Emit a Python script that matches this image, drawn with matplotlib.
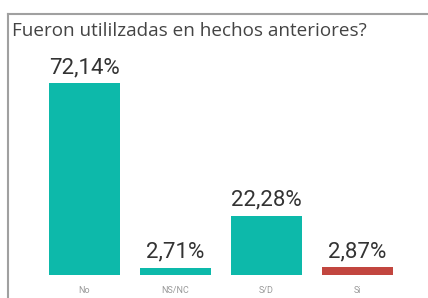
import matplotlib.pyplot as plt
from matplotlib.lines import Line2D

categorias = ["No", "NS/NC", "S/D", "Si"]
valores = [72.14, 2.71, 22.28, 2.87]
etiquetas = ["72,14%", "2,71%", "22,28%", "2,87%"]
colores = ["#0DB9AA", "#0DB9AA", "#0DB9AA", "#C2463F"]

W, H = 428, 298
fig = plt.figure(figsize=(W / 100, H / 100), dpi=100)
fig.patch.set_facecolor("white")

# axes placed in pixel coords: x 39..403, y bottom 275, top 83
ax = fig.add_axes([39 / W, (H - 275) / H, 364 / W, 192 / H])
ax.bar(range(len(categorias)), valores, width=0.77, color=colores)
ax.set_xlim(-0.5, 3.5)
ax.set_ylim(0, max(valores))
ax.set_xticks(range(len(categorias)))
ax.set_xticklabels(categorias, fontsize=6.5, color="#999999", family="Roboto")
ax.tick_params(axis="x", length=0, pad=8)
ax.set_yticks([])
for s in ax.spines.values():
    s.set_visible(False)

for i, v in enumerate(valores):
    ax.annotate(etiquetas[i], (i, v), xytext=(0, 5), textcoords="offset pixels",
                ha="center", va="bottom", fontsize=16, color="#333333",
                family="Roboto", annotation_clip=False)

fig.text(12 / W, 1 - 31 / H, "Fueron utililzadas en hechos anteriores?",
         fontsize=13.6, color="#444444", family="Open Sans", va="center", ha="left")

# border lines
fig.add_artist(Line2D([8 / W, 8 / W], [0, 1 - 14 / H], color="#a0a0a0", lw=1.5))
fig.add_artist(Line2D([8 / W, 1], [1 - 14 / H, 1 - 14 / H], color="#a0a0a0", lw=1.5))

fig.savefig("out.png", dpi=100)
